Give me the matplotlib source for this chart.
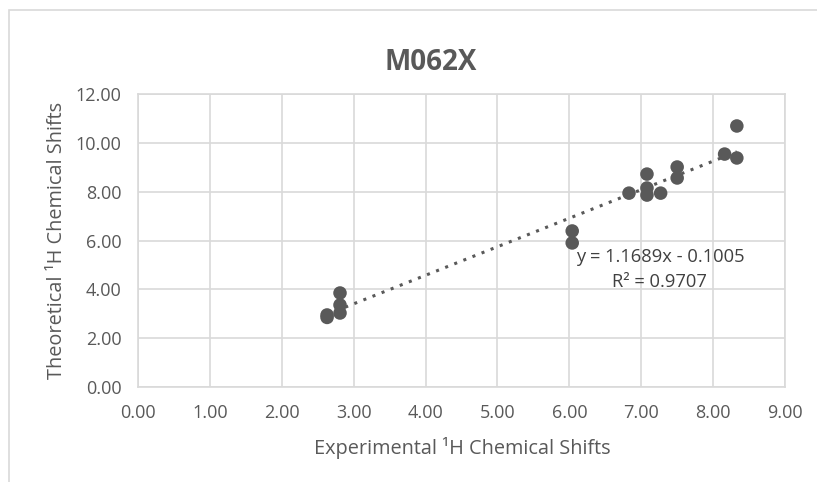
import numpy as np
import matplotlib
matplotlib.use("Agg")
import matplotlib.pyplot as plt
from matplotlib.patches import Rectangle

plt.rcParams['font.family'] = ['Open Sans', 'DejaVu Sans']

exp_shift = [2.63, 2.63, 2.81, 2.81, 2.81, 6.04, 6.04, 6.83, 7.08, 7.08, 7.08,
             7.27, 7.50, 7.50, 8.16, 8.33, 8.33]
theo_shift = [2.95, 2.85, 3.85, 3.36, 3.03, 6.39, 5.90, 7.94, 8.72, 8.15, 7.86,
              7.94, 9.01, 8.56, 9.54, 10.69, 9.38]
slope, intercept = 1.1689, -0.1005
eq_text = "y = 1.1689x - 0.1005"
r2_text = "R² = 0.9707"
x_ticks = np.arange(0, 10, 1)
y_ticks = np.arange(0, 14, 2)

grey = "#595959"
grid = "#d9d9d9"

fig = plt.figure(figsize=(8.17, 4.82), dpi=100)
W, H = 817, 482
ax = fig.add_axes([138 / W, 1 - 387 / H, (785 - 138) / W, (387 - 94) / H])

# chart frame (runs off the canvas on the right and bottom)
fig.patches.append(Rectangle((9 / W, -0.1), 1.2, 1 - 10 / H + 0.1,
                             transform=fig.transFigure, fill=False,
                             edgecolor=grid, linewidth=1.2))

xs = np.array([min(exp_shift), max(exp_shift)])
ax.plot(xs, slope * xs + intercept, linestyle=(0, (1, 2.2)), color=grey,
        linewidth=2.2, zorder=2)
ax.scatter(exp_shift, theo_shift, s=95, color=grey, edgecolors='none', zorder=3)

ax.set_xlim(0, 9)
ax.set_ylim(0, 12)
ax.set_xticks(x_ticks)
ax.set_yticks(y_ticks)
ax.set_xticklabels([f"{v:.2f}" for v in x_ticks])
ax.set_yticklabels([f"{v:.2f}" for v in y_ticks])
ax.tick_params(length=0, labelsize=13, labelcolor=grey, pad=12)
ax.grid(True, color=grid, linewidth=1.2)
ax.set_axisbelow(True)
for s in ax.spines.values():
    s.set_color(grid)
    s.set_linewidth(1.2)

ax.text(7.26, 5.32, eq_text, ha='center', va='center', fontsize=13.2, color='#404040')
ax.text(7.26, 4.30, r2_text, ha='center', va='center', fontsize=13.2, color='#404040')

fig.text(431 / W, 1 - 63 / H, "M062X", ha='center', va='center',
         fontsize=20, fontweight='bold', color=grey)
fig.text(462 / W, 1 - 448 / H, "Experimental ¹H Chemical Shifts", ha='center',
         va='center', fontsize=14.3, color=grey)
fig.text(57 / W, 1 - 240 / H, "Theoretical ¹H Chemical Shifts", ha='center',
         va='center', rotation=90, fontsize=14.3, color=grey)

fig.savefig("out.png", dpi=100)
